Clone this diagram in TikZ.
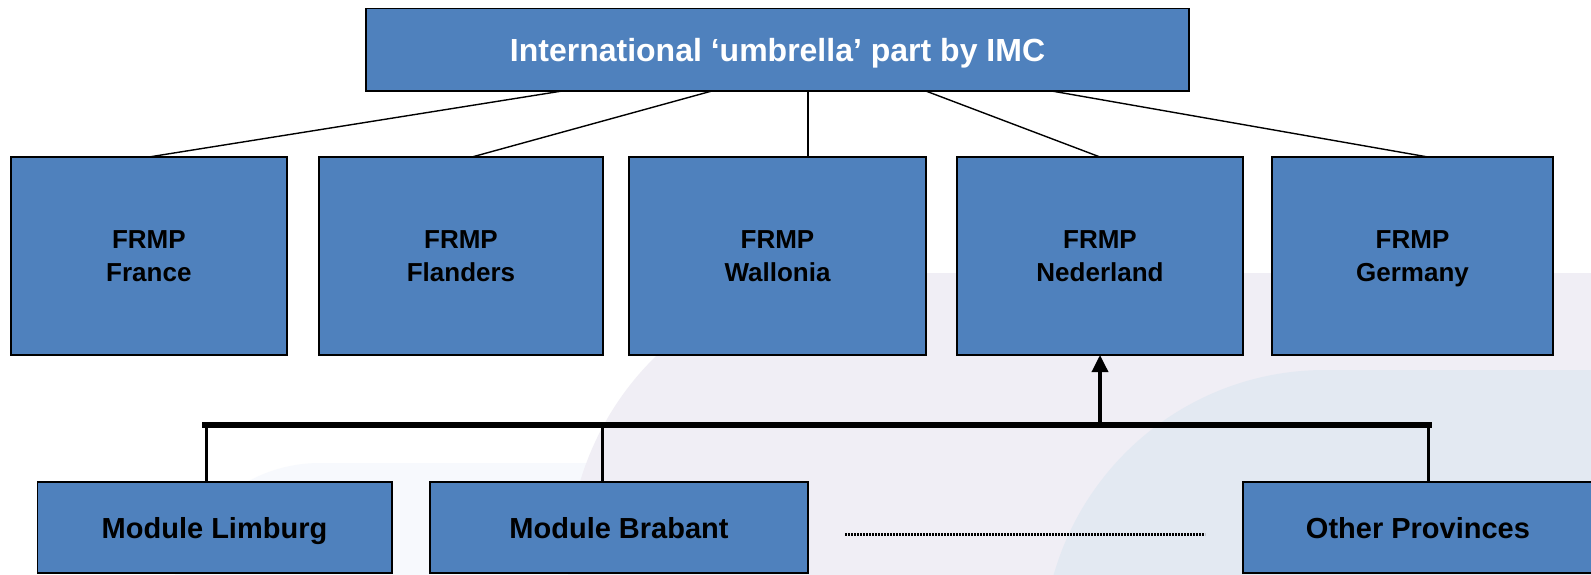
\documentclass[tikz,border=0pt]{standalone}
\usepackage{fontspec}
\setmainfont{Liberation Sans}
\usetikzlibrary{calc,arrows.meta}
\definecolor{boxblue}{HTML}{4F81BD}
\definecolor{bglav}{HTML}{F0EEF5}
\definecolor{bgblue}{HTML}{E3E9F2}
\definecolor{bgfaint}{HTML}{F7F9FD}
\begin{document}
\begin{tikzpicture}[x=1pt,y=-1pt,
  box/.style={draw=black, line width=1.6pt, fill=boxblue, inner sep=0pt, outer sep=0pt,
    align=center, text depth=0pt, font=\bfseries},
  rowbox/.style={box, minimum height=198pt, font=\bfseries\fontsize{26}{32.5}\selectfont},
  modbox/.style={box, minimum height=91pt, font=\bfseries\fontsize{29}{34}\selectfont},
  conn/.style={draw=black, line width=1.4pt},
  bus/.style={draw=black, line width=5.3pt},
  drop/.style={draw=black, line width=3pt},
  arr/.style={draw=black, line width=3.5pt, -{Triangle[length=17pt,width=16pt]}},
  dots/.style={draw=black, line width=2.6pt, dash pattern=on 1.6pt off 1.4pt}]
\useasboundingbox (0,0) rectangle (1591,574);
\fill[white] (0,0) rectangle (1591,574);
\begin{scope}
  \clip (0,0) rectangle (1591,574);
  \fill[bgfaint, rounded corners=150pt] (170,463) rectangle (1700,900);
  \fill[bglav, rounded corners=292pt] (568,273) rectangle (2200,1200);
  \fill[bgblue, rounded corners=282pt] (1043,370) rectangle (2200,1200);
\end{scope}

\node[box, minimum width=823pt, minimum height=82.2pt, text=white,
  font=\bfseries\fontsize{32}{38}\selectfont] (top) at (777.5,49.6)
  {International ‘umbrella’ part by IMC};

\node[rowbox, minimum width=276.3pt] (fr) at (148.85,256) {FRMP\\France};
\node[rowbox, minimum width=284pt]   (fl) at (461,256)    {FRMP\\Flanders};
\node[rowbox, minimum width=297pt]   (wa) at (777.5,256)  {FRMP\\Wallonia};
\node[rowbox, minimum width=286pt]   (ne) at (1100,256)   {FRMP\\Nederland};
\node[rowbox, minimum width=281pt]   (ge) at (1412.5,256) {FRMP\\Germany};

\node[modbox, minimum width=354.4pt] (lim) at (214.5,527.5) {Module Limburg};
\node[modbox, minimum width=378pt]   (bra) at (619,527.5)   {Module Brabant};
\node[modbox, minimum width=350pt]   (oth) at (1418,527.5)  {Other Provinces};

\draw[conn] ($(top.south west)+(198,0)$) -- (fr.north);
\draw[conn] ($(top.south west)+(347,0)$) -- ($(fl.north west)+(153,0)$);
\draw[conn] ($(top.south west)+(442,0)$) -- ($(wa.north west)+(179,0)$);
\draw[conn] ($(top.south west)+(559,0)$) -- (ne.north);
\draw[conn] ($(top.south west)+(684,0)$) -- ($(ge.north west)+(156,0)$);

\coordinate (bl) at (206,425);
\coordinate (bb) at (602,425);
\coordinate (br) at (1428,425);
\draw[drop] (bl |- lim.north) -- (bl);
\draw[drop] (bb |- bra.north) -- (bb);
\draw[drop] (br |- oth.north) -- (br);
\draw[bus, line cap=rect] ($(bl)+(-1.2,0)$) -- ($(br)+(1.2,0)$);
\draw[arr] (bl -| ne.south) -- (ne.south);

\draw[dots] ($(bra.east)+(37,7)$) -- ($(oth.west)+(-38,7)$);
\end{tikzpicture}
\end{document}
